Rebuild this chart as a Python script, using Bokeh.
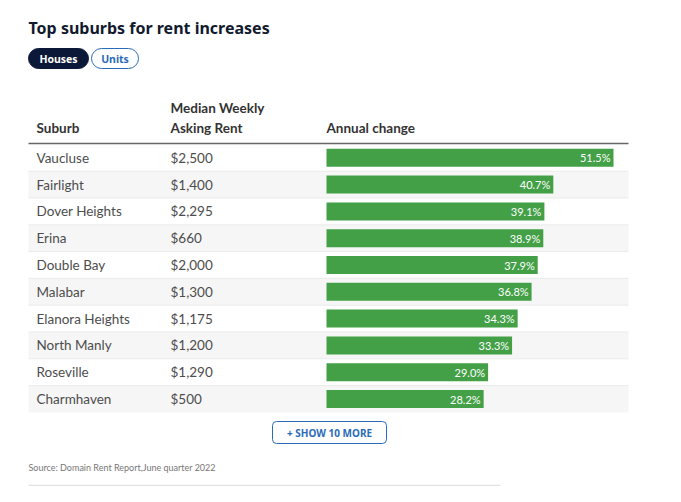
from bokeh.plotting import figure
from bokeh.models import Range1d
from bokeh.core.properties import value
from bokeh.embed import file_html
from bokeh.resources import INLINE

# ---- data ----
suburbs = ["Vaucluse", "Fairlight", "Dover Heights", "Erina", "Double Bay",
           "Malabar", "Elanora Heights", "North Manly", "Roseville", "Charmhaven"]
rents = ["$2,500", "$1,400", "$2,295", "$660", "$2,000",
         "$1,300", "$1,175", "$1,200", "$1,290", "$500"]
changes = [51.5, 40.7, 39.1, 38.9, 37.9, 36.8, 34.3, 33.3, 29.0, 28.2]

title = "Top suburbs for rent increases"
tabs = ["Houses", "Units"]
headers = ["Suburb", "Median Weekly", "Asking Rent", "Annual change"]
more_label = "+ SHOW 10 MORE"
source = "Source: Domain Rent Report,June quarter 2022"

# ---- layout constants (page pixels) ----
W, H = 665, 486
X0, Y0 = 0, 0
TABLE_L, TABLE_R = 28, 628
ROW0_CY, ROW_H = 157.3, 26.8
BAR_X0, BAR_PX_PER_PCT = 326, 287 / 51.5
COL_SUBURB, COL_RENT = 36, 170
GREEN = "#43a047"
NAVY = "#0b1838"
BLUE = "#2a6bb7"
FONT = "Lato"

p = figure(width=W, height=H, output_backend="svg", toolbar_location=None,
           x_range=Range1d(X0, X0 + W), y_range=Range1d(Y0 + H, Y0),
           min_border=0, outline_line_color=None)
p.axis.visible = False
p.grid.visible = False
p.background_fill_color = "white"

p.extra_y_ranges = {"row": Range1d((Y0 + H - ROW0_CY) / ROW_H, (Y0 - ROW0_CY) / ROW_H)}
p.extra_x_ranges = {"pct": Range1d((X0 - BAR_X0) / BAR_PX_PER_PCT,
                                   (X0 + W - BAR_X0) / BAR_PX_PER_PCT)}

n = len(suburbs)
rows = list(range(n))

# title
p.text(x=[28], y=[27], text=[title], text_font=value("Noto Sans"),
       text_font_style="bold", text_font_size="16px", text_color="#111a2e",
       text_baseline="middle")

# tabs (pills)
p.quad(left=[28], right=[88], top=[48], bottom=[68], fill_color=NAVY,
       line_color=NAVY, border_radius=10)
p.quad(left=[91], right=[138], top=[48], bottom=[68], fill_color="white",
       line_color=BLUE, line_width=1, border_radius=10)
p.text(x=[58], y=[58.5], text=[tabs[0]], text_font=value("Noto Sans"),
       text_font_style="bold", text_font_size="10.5px", text_color="white",
       text_align="center", text_baseline="middle")
p.text(x=[114.5], y=[58.5], text=[tabs[1]], text_font=value("Noto Sans"),
       text_font_style="bold", text_font_size="10.5px", text_color=BLUE,
       text_align="center", text_baseline="middle")

# headers
hdr = dict(text_font=value(FONT), text_font_style="bold", text_font_size="13.5px",
           text_color="#333333", text_baseline="middle")
p.text(x=[COL_SUBURB], y=[127], text=[headers[0]], **hdr)
p.text(x=[COL_RENT], y=[107], text=[headers[1]], **hdr)
p.text(x=[COL_RENT], y=[127], text=[headers[2]], **hdr)
p.text(x=[BAR_X0], y=[127], text=[headers[3]], **hdr)
p.segment(x0=[TABLE_L], x1=[TABLE_R], y0=[143], y1=[143], line_color="#666666",
          line_width=1.5)

# zebra rows
shaded = [r for r in rows if r % 2 == 1]
p.hbar(y=shaded, left=TABLE_L, right=TABLE_R, height=1, fill_color="#f6f6f6",
       line_color=None, y_range_name="row")
seps = [r + 0.5 for r in rows[:-1]]
p.segment(x0=TABLE_L, x1=TABLE_R, y0=seps, y1=seps, line_color="#ebebeb",
          line_width=1, y_range_name="row")

# cells
cell = dict(text_font=value(FONT), text_font_size="13.5px", text_color="#4d4d4d",
            text_baseline="middle", y_range_name="row")
p.text(x=COL_SUBURB, y=rows, text=suburbs, **cell)
p.text(x=COL_RENT, y=rows, text=rents, **cell)

# bars
p.hbar(y=rows, left=0, right=changes, height=18 / ROW_H, fill_color=GREEN,
       line_color=None, x_range_name="pct", y_range_name="row")
p.text(x=changes, y=rows, text=[f"{c:.1f}%" for c in changes],
       text_font=value(FONT), text_font_size="11px", text_color="white",
       text_align="right", text_baseline="middle", x_offset=-3,
       x_range_name="pct", y_range_name="row")

# show more button
p.quad(left=[272], right=[386], top=[421], bottom=[443], fill_color="white",
       line_color=BLUE, line_width=1, border_radius=4)
p.text(x=[329], y=[432.5], text=[more_label], text_font=value("Noto Sans"),
       text_font_style="bold", text_font_size="10px", text_color=BLUE,
       text_align="center", text_baseline="middle")

# source
p.text(x=[28], y=[467], text=[source], text_font=value(FONT),
       text_font_size="9px", text_color="#777777", text_baseline="middle")
p.segment(x0=[28], x1=[500], y0=[485], y1=[485], line_color="#e3e3e3", line_width=1.5)

open("out.html", "w").write(file_html(p, INLINE))
